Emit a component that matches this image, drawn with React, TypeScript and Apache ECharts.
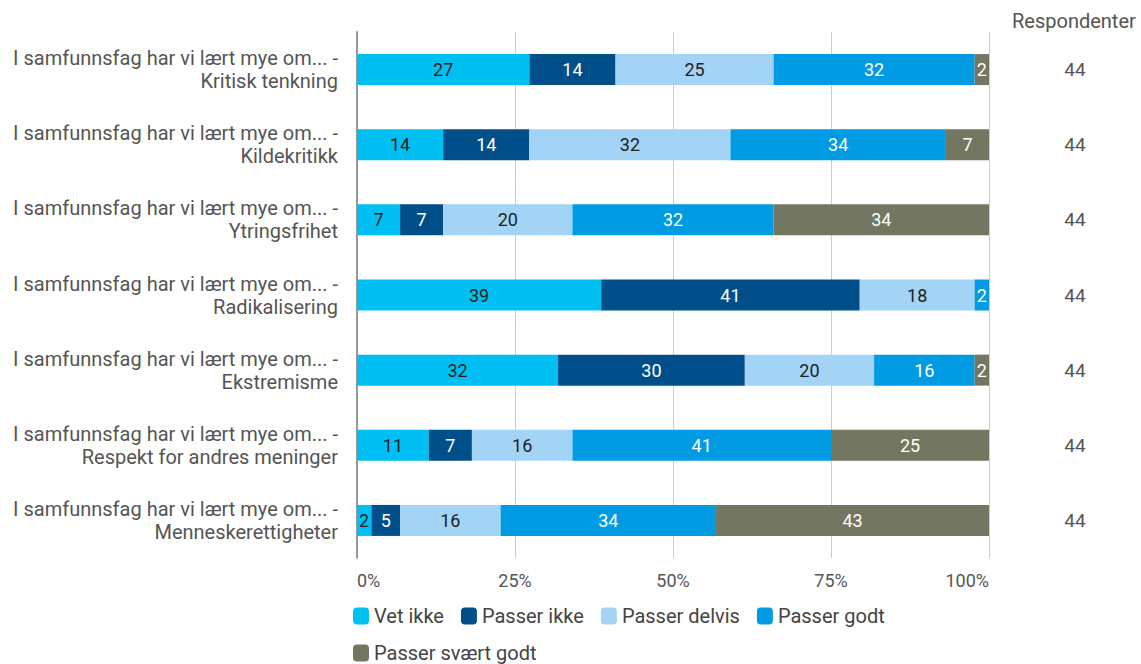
import React, { useEffect, useRef } from "react";
import * as echarts from "echarts";

const categories = [
  "I samfunnsfag har vi lært mye om... -\nKritisk tenkning",
  "I samfunnsfag har vi lært mye om... -\nKildekritikk",
  "I samfunnsfag har vi lært mye om... -\nYtringsfrihet",
  "I samfunnsfag har vi lært mye om... -\nRadikalisering",
  "I samfunnsfag har vi lært mye om... -\nEkstremisme",
  "I samfunnsfag har vi lært mye om... -\nRespekt for andres meninger",
  "I samfunnsfag har vi lært mye om... -\nMenneskerettigheter",
];

const seriesNames = ["Vet ikke", "Passer ikke", "Passer delvis", "Passer godt", "Passer svært godt"];

// Number of respondents per answer (out of 44), read from the shown percentages
const vetIkke = [12, 6, 3, 17, 14, 5, 1];
const passerIkke = [6, 6, 3, 18, 13, 3, 2];
const passerDelvis = [11, 14, 9, 8, 9, 7, 7];
const passerGodt = [14, 15, 14, 1, 7, 18, 15];
const passerSvaertGodt = [1, 3, 15, 0, 1, 11, 19];
const respondents = [44, 44, 44, 44, 44, 44, 44];

const xTicks = [0, 25, 50, 75, 100];

const colors = ["#00bff3", "#004f8b", "#a3d3f5", "#019be3", "#737660"];
const labelColors = ["#222", "#fff", "#222", "#fff", "#fff"];

const FONT = "Roboto";

export default function App() {
  const ref = useRef<HTMLDivElement>(null);
  useEffect(() => {
    if (!ref.current) return;
    const chart = echarts.init(ref.current, undefined, { renderer: "svg" });
    const allCounts = [vetIkke, passerIkke, passerDelvis, passerGodt, passerSvaertGodt];
    const series = allCounts.map((arr, si) => ({
      name: seriesNames[si],
      type: "bar",
      stack: "total",
      barWidth: 31,
      itemStyle: { color: colors[si] },
      label: {
        show: true,
        position: "inside",
        color: labelColors[si],
        fontFamily: FONT,
        fontSize: 18,
        formatter: (p: any) => (p.value > 0 ? String(Math.round(p.value)) : ""),
      },
      data: arr.map((c, i) => (c / respondents[i]) * 100),
    }));
    chart.setOption({
      animation: false,
      textStyle: { fontFamily: FONT },
      grid: { left: 357, right: 152, top: 32, bottom: 106, containLabel: false },
      legend: {
        data: seriesNames,
        left: 348,
        top: 601,
        width: 660,
        itemWidth: 16,
        itemHeight: 17,
        itemGap: 17,
        icon: "roundRect",
        textStyle: { fontFamily: FONT, fontSize: 20, lineHeight: 20, color: "#444" },
      },
      xAxis: {
        type: "value",
        min: xTicks[0],
        max: xTicks[xTicks.length - 1],
        interval: 25,
        axisLabel: {
          formatter: "{value}%",
          color: "#555",
          fontFamily: FONT,
          fontSize: 18,
          margin: 13,
          alignMinLabel: "left",
          alignMaxLabel: "right",
        },
        axisLine: { show: false },
        axisTick: { show: false },
        splitLine: { lineStyle: { color: "#cccccc", width: 1 } },
      },
      yAxis: [
        {
          type: "category",
          inverse: true,
          data: categories,
          axisLine: { show: true, lineStyle: { color: "#999", width: 2 } },
          axisTick: { show: false },
          axisLabel: {
            margin: 19,
            color: "#555",
            fontFamily: FONT,
            fontSize: 20,
            lineHeight: 23,
            align: "right",
          },
        },
        {
          type: "category",
          inverse: true,
          position: "right",
          data: respondents.map(String),
          axisLine: { show: false },
          axisTick: { show: false },
          axisLabel: { margin: 86, align: "center", color: "#555", fontFamily: FONT, fontSize: 19 },
        },
      ],
      graphic: [
        {
          type: "text",
          left: 1012,
          top: 11,
          style: { text: "Respondenter", fontFamily: FONT, fontSize: 20, fill: "#555" },
        },
      ],
      series,
    });
    return () => chart.dispose();
  }, []);
  return <div ref={ref} style={{ width: 1141, height: 664, position: "absolute", left: 0, top: 0 }} />;
}
